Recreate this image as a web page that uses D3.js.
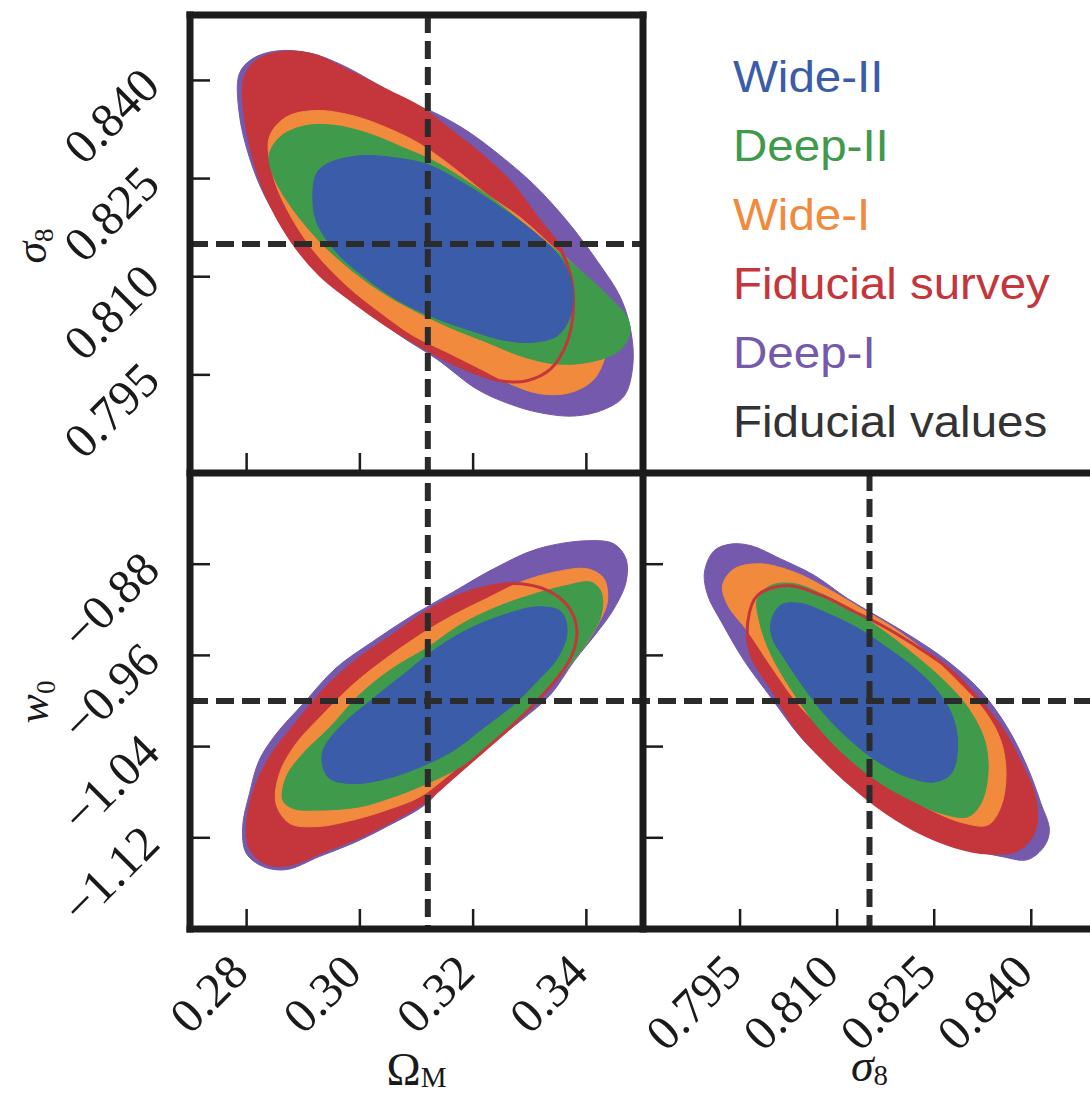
<!DOCTYPE html>
<html><head><meta charset="utf-8">
<script src="https://cdn.jsdelivr.net/npm/d3@7"></script>
<style>body{margin:0;background:#fff}svg{display:block}</style>
</head><body>
<svg id="c" width="1090" height="1094"></svg>
<script>
// ---------- data ----------
const omegaTicks = [0.28, 0.30, 0.32, 0.34];
const sigmaTicks = [0.795, 0.810, 0.825, 0.840];
const w0Ticks = [-0.88, -0.96, -1.04, -1.12];
const omegaDomain = [0.27, 0.35];
const sigmaDomain = [0.78, 0.85];
const w0Domain = [-1.2, -0.8];
const fidOmega = 0.312, fidSigma8 = 0.815, fidW0 = -1.0;
const seriesNames = ["Wide-II", "Deep-II", "Wide-I", "Fiducial survey", "Deep-I"];
const seriesColors = ["#3b5ca8", "#3f9a4c", "#f28a3d", "#c5363c", "#7459ad"];
const legendLabels = ["Wide-II", "Deep-II", "Wide-I", "Fiducial survey", "Deep-I", "Fiducial values"];
const legendColors = ["#3b5ca8", "#3f9a4c", "#f28a3d", "#c5363c", "#7459ad", "#333333"];

// Omega_M vs sigma_8 contours
const deepI_OmS8 = [[0.2787,0.8410],[0.2810,0.8433],[0.2852,0.8445],[0.2911,0.8442],[0.2970,0.8423],[0.3029,0.8395],[0.3088,0.8367],[0.3136,0.8349],[0.3189,0.8323],[0.3248,0.8285],[0.3307,0.8241],[0.3366,0.8185],[0.3420,0.8123],[0.3461,0.8067],[0.3479,0.8015],[0.3482,0.7964],[0.3467,0.7918],[0.3431,0.7897],[0.3378,0.7887],[0.3319,0.7892],[0.3266,0.7905],[0.3207,0.7928],[0.3136,0.7974],[0.3071,0.8010],[0.3006,0.8051],[0.2941,0.8097],[0.2882,0.8154],[0.2834,0.8220],[0.2805,0.8282],[0.2787,0.8349]];
const fid_OmS8 = [[0.2796,0.8400],[0.2816,0.8428],[0.2858,0.8442],[0.2917,0.8439],[0.2982,0.8413],[0.3047,0.8385],[0.3106,0.8359],[0.3153,0.8328],[0.3213,0.8287],[0.3266,0.8244],[0.3313,0.8190],[0.3349,0.8150],[0.3372,0.8103],[0.3377,0.8051],[0.3366,0.8000],[0.3337,0.7959],[0.3295,0.7941],[0.3248,0.7941],[0.3201,0.7954],[0.3153,0.7972],[0.3106,0.7995],[0.3047,0.8026],[0.2988,0.8062],[0.2929,0.8103],[0.2876,0.8159],[0.2834,0.8226],[0.2811,0.8287],[0.2798,0.8344]];
const wideI_OmS8 = [[0.2840,0.8313],[0.2870,0.8344],[0.2923,0.8354],[0.2988,0.8346],[0.3047,0.8328],[0.3106,0.8303],[0.3165,0.8267],[0.3224,0.8226],[0.3284,0.8190],[0.3337,0.8149],[0.3390,0.8108],[0.3426,0.8067],[0.3440,0.8026],[0.3437,0.7990],[0.3414,0.7944],[0.3372,0.7923],[0.3319,0.7921],[0.3266,0.7936],[0.3213,0.7959],[0.3153,0.7985],[0.3094,0.8010],[0.3035,0.8046],[0.2976,0.8087],[0.2917,0.8141],[0.2870,0.8205],[0.2846,0.8257]];
const deepII_OmS8 = [[0.2840,0.8287],[0.2861,0.8315],[0.2905,0.8331],[0.2958,0.8331],[0.3018,0.8318],[0.3077,0.8297],[0.3130,0.8277],[0.3189,0.8246],[0.3248,0.8210],[0.3313,0.8164],[0.3378,0.8118],[0.3437,0.8072],[0.3473,0.8036],[0.3476,0.8010],[0.3455,0.7985],[0.3402,0.7969],[0.3343,0.7967],[0.3284,0.7979],[0.3224,0.8000],[0.3165,0.8020],[0.3106,0.8044],[0.3047,0.8072],[0.2988,0.8108],[0.2929,0.8154],[0.2876,0.8210],[0.2846,0.8257]];
const wideII_OmS8 = [[0.2923,0.8257],[0.2941,0.8272],[0.3000,0.8285],[0.3059,0.8282],[0.3118,0.8272],[0.3177,0.8246],[0.3242,0.8210],[0.3307,0.8169],[0.3355,0.8128],[0.3375,0.8087],[0.3372,0.8041],[0.3349,0.8010],[0.3307,0.8000],[0.3254,0.8003],[0.3195,0.8018],[0.3136,0.8036],[0.3071,0.8062],[0.3012,0.8097],[0.2958,0.8138],[0.2923,0.8185],[0.2917,0.8226]];

// Omega_M vs w0 contours
const deepI_OmW0 = [[0.3402,-0.8594],[0.3449,-0.8623],[0.3470,-0.8754],[0.3470,-0.8957],[0.3449,-0.9188],[0.3420,-0.9391],[0.3378,-0.9652],[0.3337,-0.9942],[0.3284,-1.0174],[0.3224,-1.0406],[0.3165,-1.0638],[0.3118,-1.0899],[0.3047,-1.1102],[0.2988,-1.1247],[0.2929,-1.1363],[0.2870,-1.1479],[0.2828,-1.1450],[0.2799,-1.1333],[0.2793,-1.1102],[0.2805,-1.0812],[0.2822,-1.0522],[0.2852,-1.0290],[0.2899,-1.0029],[0.2958,-0.9710],[0.3023,-0.9478],[0.3094,-0.9246],[0.3165,-0.9043],[0.3236,-0.8841],[0.3313,-0.8667]];
const fid_OmW0 = [[0.2805,-1.1276],[0.2802,-1.1044],[0.2816,-1.0754],[0.2846,-1.0464],[0.2887,-1.0203],[0.2941,-0.9884],[0.3000,-0.9623],[0.3059,-0.9420],[0.3118,-0.9217],[0.3177,-0.9072],[0.3236,-0.8986],[0.3284,-0.8971],[0.3331,-0.9029],[0.3366,-0.9159],[0.3383,-0.9362],[0.3375,-0.9594],[0.3349,-0.9797],[0.3313,-1.0000],[0.3272,-1.0203],[0.3219,-1.0435],[0.3165,-1.0667],[0.3118,-1.0870],[0.3059,-1.1044],[0.3000,-1.1189],[0.2935,-1.1319],[0.2876,-1.1435],[0.2834,-1.1421]];
const wideI_OmW0 = [[0.2852,-1.0899],[0.2858,-1.0638],[0.2887,-1.0377],[0.2935,-1.0116],[0.2988,-0.9855],[0.3047,-0.9623],[0.3106,-0.9420],[0.3165,-0.9246],[0.3224,-0.9101],[0.3284,-0.8957],[0.3343,-0.8870],[0.3402,-0.8841],[0.3431,-0.8928],[0.3437,-0.9130],[0.3420,-0.9333],[0.3390,-0.9565],[0.3349,-0.9797],[0.3301,-1.0029],[0.3254,-1.0232],[0.3201,-1.0464],[0.3153,-1.0667],[0.3106,-1.0841],[0.3047,-1.0957],[0.2988,-1.1044],[0.2923,-1.1102],[0.2876,-1.1073]];
const deepII_OmW0 = [[0.2864,-1.0870],[0.2870,-1.0667],[0.2899,-1.0464],[0.2947,-1.0232],[0.3000,-0.9942],[0.3059,-0.9710],[0.3118,-0.9536],[0.3177,-0.9333],[0.3236,-0.9188],[0.3301,-0.9072],[0.3366,-0.8986],[0.3408,-0.8957],[0.3426,-0.9043],[0.3426,-0.9246],[0.3402,-0.9478],[0.3366,-0.9710],[0.3325,-0.9942],[0.3278,-1.0174],[0.3224,-1.0406],[0.3177,-1.0580],[0.3118,-1.0725],[0.3059,-1.0841],[0.3000,-1.0928],[0.2929,-1.0957],[0.2882,-1.0942]];
const wideII_OmW0 = [[0.2935,-1.0580],[0.2935,-1.0435],[0.2964,-1.0232],[0.3018,-1.0000],[0.3077,-0.9768],[0.3136,-0.9536],[0.3195,-0.9362],[0.3254,-0.9246],[0.3313,-0.9174],[0.3355,-0.9217],[0.3366,-0.9391],[0.3349,-0.9623],[0.3313,-0.9826],[0.3272,-1.0029],[0.3219,-1.0232],[0.3165,-1.0435],[0.3106,-1.0580],[0.3047,-1.0681],[0.2988,-1.0725],[0.2947,-1.0681]];

// sigma_8 vs w0 contours
const deepI_S8W0 = [[0.7895,-0.8870],[0.7910,-0.8681],[0.7936,-0.8623],[0.7967,-0.8638],[0.8013,-0.8754],[0.8065,-0.8899],[0.8116,-0.9101],[0.8168,-0.9275],[0.8219,-0.9449],[0.8271,-0.9652],[0.8322,-0.9913],[0.8363,-1.0232],[0.8394,-1.0580],[0.8415,-1.0899],[0.8428,-1.1131],[0.8420,-1.1275],[0.8394,-1.1392],[0.8353,-1.1363],[0.8307,-1.1305],[0.8250,-1.1218],[0.8194,-1.1044],[0.8147,-1.0841],[0.8096,-1.0609],[0.8044,-1.0319],[0.7998,-0.9971],[0.7957,-0.9652],[0.7921,-0.9304],[0.7900,-0.9072]];
const fid_S8W0 = [[0.7962,-0.9304],[0.7977,-0.9072],[0.8024,-0.8986],[0.8075,-0.9072],[0.8127,-0.9217],[0.8168,-0.9333],[0.8219,-0.9507],[0.8271,-0.9710],[0.8312,-0.9942],[0.8353,-1.0232],[0.8384,-1.0551],[0.8405,-1.0841],[0.8405,-1.1131],[0.8379,-1.1305],[0.8333,-1.1333],[0.8281,-1.1276],[0.8230,-1.1160],[0.8178,-1.0986],[0.8137,-1.0812],[0.8091,-1.0580],[0.8039,-1.0261],[0.7998,-0.9884],[0.7967,-0.9594]];
const wideI_S8W0 = [[0.7923,-0.8986],[0.7941,-0.8841],[0.7982,-0.8797],[0.8034,-0.8870],[0.8085,-0.9014],[0.8137,-0.9188],[0.8188,-0.9362],[0.8240,-0.9580],[0.8286,-0.9826],[0.8328,-1.0087],[0.8353,-1.0348],[0.8361,-1.0638],[0.8353,-1.0928],[0.8333,-1.1087],[0.8297,-1.1073],[0.8245,-1.0957],[0.8194,-1.0783],[0.8142,-1.0580],[0.8091,-1.0319],[0.8044,-1.0058],[0.8003,-0.9739],[0.7962,-0.9391],[0.7931,-0.9159]];
const deepII_S8W0 = [[0.7977,-0.9101],[0.7998,-0.8986],[0.8034,-0.8971],[0.8080,-0.9072],[0.8127,-0.9217],[0.8173,-0.9391],[0.8219,-0.9594],[0.8266,-0.9826],[0.8302,-1.0058],[0.8328,-1.0348],[0.8333,-1.0638],[0.8322,-1.0899],[0.8302,-1.1015],[0.8261,-1.0986],[0.8214,-1.0870],[0.8168,-1.0725],[0.8121,-1.0522],[0.8075,-1.0261],[0.8034,-0.9942],[0.7998,-0.9594],[0.7980,-0.9304]];
const wideII_S8W0 = [[0.7998,-0.9304],[0.8013,-0.9159],[0.8044,-0.9145],[0.8085,-0.9232],[0.8132,-0.9362],[0.8178,-0.9536],[0.8219,-0.9710],[0.8255,-0.9913],[0.8279,-1.0145],[0.8286,-1.0406],[0.8276,-1.0638],[0.8250,-1.0710],[0.8209,-1.0667],[0.8168,-1.0551],[0.8127,-1.0377],[0.8085,-1.0145],[0.8049,-0.9884],[0.8018,-0.9623],[0.8000,-0.9449]];

// ---------- layout ----------
const L = 190, M = 643, R = 1096, T = 15, MY = 473, B = 929;
const svg = d3.select("#c");
const xOm = d3.scaleLinear().domain(omegaDomain).range([L, M]);
const yS8 = d3.scaleLinear().domain(sigmaDomain).range([MY, T]);
const yW0 = d3.scaleLinear().domain(w0Domain).range([B, MY]);
const xS8 = d3.scaleLinear().domain(sigmaDomain).range([M, R]);

const panels = [
  {id: "tl", x: xOm, y: yS8, box: [L, T, M, MY],
   sets: [wideII_OmS8, deepII_OmS8, wideI_OmS8, fid_OmS8, deepI_OmS8]},
  {id: "bl", x: xOm, y: yW0, box: [L, MY, M, B],
   sets: [wideII_OmW0, deepII_OmW0, wideI_OmW0, fid_OmW0, deepI_OmW0]},
  {id: "br", x: xS8, y: yW0, box: [M, MY, R, B],
   sets: [wideII_S8W0, deepII_S8W0, wideI_S8W0, fid_S8W0, deepI_S8W0]}
];

const defs = svg.append("defs");
panels.forEach(p => {
  defs.append("clipPath").attr("id", "clip-" + p.id)
    .append("rect").attr("x", p.box[0]).attr("y", p.box[1])
    .attr("width", p.box[2] - p.box[0]).attr("height", p.box[3] - p.box[1]);
});

// draw order: Deep-I, Fiducial survey, Wide-I, Deep-II, (Fiducial outline), Wide-II
const drawOrder = [4, 3, 2, 1, "outline", 0];
panels.forEach(p => {
  const line = d3.line().x(d => p.x(d[0])).y(d => p.y(d[1]))
    .curve(d3.curveCatmullRomClosed.alpha(0.5));
  const g = svg.append("g").attr("clip-path", `url(#clip-${p.id})`);
  drawOrder.forEach(k => {
    if (k === "outline") {
      g.append("path").attr("d", line(p.sets[3]))
        .attr("fill", "none").attr("stroke", seriesColors[3]).attr("stroke-width", 3);
    } else {
      g.append("path").attr("d", line(p.sets[k]))
        .attr("fill", seriesColors[k]).attr("stroke", seriesColors[k]).attr("stroke-width", 1);
    }
  });
});

// fiducial dashed lines
const dash = {stroke: "#2b2b2b", w: 6, arr: "18,8"};
function dline(x1, y1, x2, y2) {
  svg.append("line").attr("x1", x1).attr("y1", y1).attr("x2", x2).attr("y2", y2)
    .attr("stroke", dash.stroke).attr("stroke-width", dash.w).attr("stroke-dasharray", dash.arr);
}
dline(xOm(fidOmega), T, xOm(fidOmega), B);
dline(L, yS8(fidSigma8), M, yS8(fidSigma8));
dline(L, yW0(fidW0), R, yW0(fidW0));
dline(xS8(fidSigma8), MY, xS8(fidSigma8), B);

// ticks
const tickLen = 20, tickW = 2.5, axisCol = "#1c1c1c";
function tick(x1, y1, x2, y2) {
  svg.append("line").attr("x1", x1).attr("y1", y1).attr("x2", x2).attr("y2", y2)
    .attr("stroke", axisCol).attr("stroke-width", tickW);
}
sigmaTicks.forEach(v => tick(L, yS8(v), L + tickLen, yS8(v)));
omegaTicks.forEach(v => tick(xOm(v), MY, xOm(v), MY - tickLen));
w0Ticks.forEach(v => tick(L, yW0(v), L + tickLen, yW0(v)));
omegaTicks.forEach(v => tick(xOm(v), B, xOm(v), B - tickLen));
w0Ticks.forEach(v => tick(M, yW0(v), M + tickLen, yW0(v)));
sigmaTicks.forEach(v => tick(xS8(v), B, xS8(v), B - tickLen));

// frame
const fw = 7;
function fline(x1, y1, x2, y2) {
  svg.append("line").attr("x1", x1).attr("y1", y1).attr("x2", x2).attr("y2", y2)
    .attr("stroke", axisCol).attr("stroke-width", fw).attr("stroke-linecap", "square");
}
fline(L, T, M, T);
fline(L, T, L, B);
fline(M, T, M, B);
fline(L, MY, R, MY);
fline(L, B, R, B);
fline(R, MY, R, B);

// tick labels
const serif = "'Liberation Serif','DejaVu Serif',serif";
const tickFont = 49;
const fmtS = d3.format(".3f"), fmtO = d3.format(".2f");
const fmtW = v => d3.format(".2f")(v).replace("-", "\u2212");
function rlabel(x, y, txt) {
  svg.append("text").attr("transform", `translate(${x},${y}) rotate(-45)`)
    .attr("text-anchor", "end").attr("font-family", serif).attr("font-size", tickFont)
    .attr("fill", "#1a1a1a").text(txt);
}
sigmaTicks.forEach(v => rlabel(L - 28, yS8(v) + 8, fmtS(v)));
w0Ticks.forEach(v => rlabel(L - 28, yW0(v) + 8, fmtW(v)));
omegaTicks.forEach(v => rlabel(xOm(v) + 4, B + 46, fmtO(v)));
sigmaTicks.forEach(v => rlabel(xS8(v) + 4, B + 46, fmtS(v)));

// axis titles
function title(x, y, rot, main, sub, italic, dy, size) {
  const t = svg.append("text").attr("transform", `translate(${x},${y}) rotate(${rot})`)
    .attr("text-anchor", "middle").attr("font-family", serif).attr("font-size", size).attr("fill", "#1a1a1a");
  t.append("tspan").attr("font-style", italic ? "italic" : "normal").text(main);
  t.append("tspan").attr("font-size", Math.round(size * 0.62)).attr("dy", dy).text(sub);
}
title(46, 246, -90, "σ", "8", true, 7, 44);
title(48, 702, -90, "w", "0", true, 7, 44);
title((L + M) / 2, 1085, 0, "Ω", "M", false, 2, 46);
title((M + R) / 2, 1081, 0, "σ", "8", true, 4, 46);

// legend
const lg = svg.append("g");
legendLabels.forEach((s, i) => {
  lg.append("text").attr("transform", `translate(733,${92 + i * 69}) scale(1.08,1)`)
    .attr("font-family", "'Liberation Sans',Arial,sans-serif").attr("font-size", 44)
    .attr("fill", legendColors[i]).text(s);
});
</script>
</body></html>
